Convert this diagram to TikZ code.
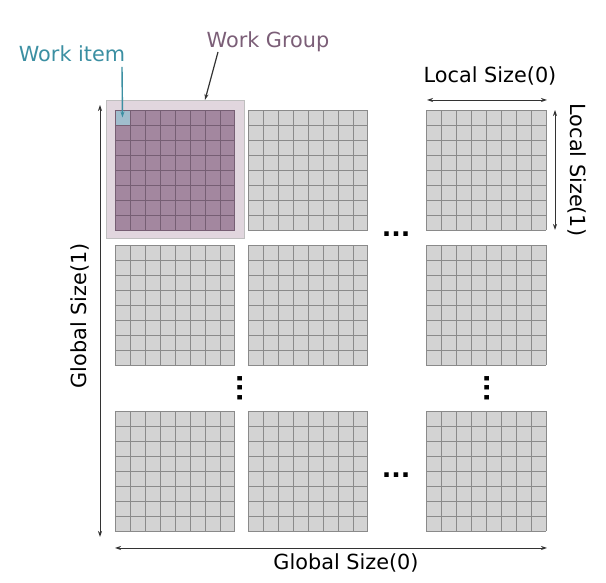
\documentclass[tikz,border=0pt]{standalone}
\usepackage{fontspec}
\setmainfont{DejaVu Sans}
\usetikzlibrary{arrows.meta}

\definecolor{cellgray}{HTML}{D3D3D3}
\definecolor{linegray}{HTML}{8A8A8A}
\definecolor{wgpurple}{HTML}{A3879F}
\definecolor{wgline}{HTML}{765E73}
\definecolor{wglight}{HTML}{E1D6DE}
\definecolor{itemblue}{HTML}{A0BDCD}
\definecolor{itemtext}{HTML}{3B8FA2}
\definecolor{grouptext}{HTML}{7B5E77}

\begin{document}
\begin{tikzpicture}[
    x=1pt, y=1pt,
    block/.style={rectangle, fill=cellgray, inner sep=0pt, minimum size=120pt},
    wgblock/.style={block, fill=wgpurple},
    gridlines/.style={draw=linegray, line width=0.6pt, step=15pt},
    wggridlines/.style={gridlines, draw=wgline},
    lbl/.style={font=\fontsize{20.8}{24}\selectfont, inner sep=0pt},
    dotlbl/.style={font=\bfseries\fontsize{25}{26}\selectfont, inner sep=0pt, anchor=base},
    >={Stealth[length=6pt, width=4pt]}
]
\useasboundingbox (0,0) rectangle (606,583);

% Work group (hervorgehoben)
\node[rectangle, fill=wglight, draw=black!25, line width=1pt,
      minimum size=138pt, inner sep=0pt] (wg) at (175,413) {};

% --- Bloecke ---
\node[wgblock] (b11) at (175,413) {};
\node[block] (b12) at (308,413) {};
\node[block] (b13) at (486.5,413) {};
\node[block] (b21) at (175,278) {};
\node[block] (b22) at (308,278) {};
\node[block] (b23) at (486.5,278) {};
\node[block] (b31) at (175,112) {};
\node[block] (b32) at (308,112) {};
\node[block] (b33) at (486.5,112) {};

% Work item
\node[rectangle, fill=itemblue, inner sep=0pt, minimum size=15pt,
      anchor=north west] (item) at (b11.north west) {};

% --- Gitter ---
\draw[wggridlines, shift={(b11.south west)}] (0,0) grid (120,120);
\foreach \b in {b12,b13,b21,b22,b23,b31,b32,b33}
    \draw[gridlines, shift={(\b.south west)}] (0,0) grid (120,120);

% --- Punkte ---
\node[dotlbl] (hdots1) at (396,346) {...};
\node[dotlbl] (hdots2) at (396,105) {...};
\node[dotlbl, rotate=90] (vdots1) at (242,195) {...};
\node[dotlbl, rotate=90] (vdots2) at (489,195) {...};

% --- Beschriftungen ---
\node[lbl, text=itemtext] (itemlbl) at (72,529) {Work item};
\node[lbl, text=grouptext] (wglbl) at (268,541) {Work Group};
\coordinate (itemfrom) at (122,516);
\coordinate (wgfrom) at (218,531);
\coordinate (wgto) at (205,483);
\draw[->, itemtext, line width=1.4pt] (itemfrom) -- (item.center);
\draw[->, black!80, line width=1.2pt] (wgfrom) -- (wgto);

% Global Size
\coordinate (gy1) at (100,478);
\coordinate (gy0) at (100,46);
\coordinate (gx0) at (115,35);
\coordinate (gx1) at (547,35);
\draw[<->, black!80, line width=0.8pt] (gy1) -- (gy0);
\draw[<->, black!80, line width=0.8pt] (gx0) -- (gx1);
\node[lbl, rotate=90] (gsize1) at (80,267) {Global Size(1)};
\node[lbl] (gsize0) at (346,20) {Global Size(0)};

% Local Size
\coordinate (lx0) at (427,483);
\coordinate (lx1) at (547,483);
\coordinate (ly1) at (555,473);
\coordinate (ly0) at (555,353);
\draw[<->, black!80, line width=0.8pt] (lx0) -- (lx1);
\draw[<->, black!80, line width=0.8pt] (ly1) -- (ly0);
\node[lbl] (lsize0) at (490,507) {Local Size(0)};
\node[lbl, rotate=-90] (lsize1) at (577,413) {Local Size(1)};

\end{tikzpicture}
\end{document}
